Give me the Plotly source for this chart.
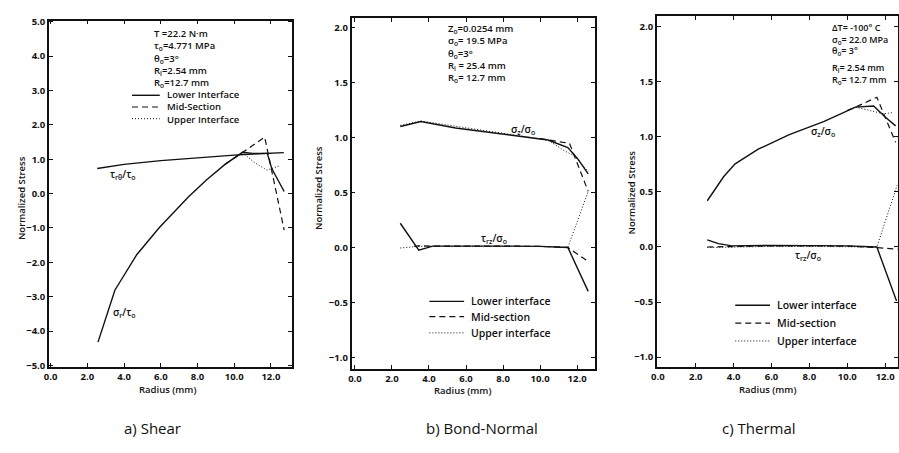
import plotly.graph_objects as go

W, H = 899, 453

# ---------------- data ----------------
# Panel a) Shear
A_R_TAU = [2.54, 4.0, 6.0, 8.0, 10.0, 11.0, 12.0, 12.7]
A_TAU = [0.73, 0.85, 0.96, 1.05, 1.12, 1.15, 1.17, 1.19]
A_R_SIG_LOWER = [2.58, 3.5, 3.8, 4.7, 5.9, 6.8, 7.5, 8.5, 9.5, 10.45, 11.0, 11.8, 12.05, 12.72]
A_SIG_LOWER = [-4.32, -2.81, -2.55, -1.77, -1.0, -0.5, -0.1, 0.4, 0.85, 1.2, 1.17, 1.17, 0.72, 0.06]
A_R_SIG_MID = [9.5, 10.45, 11.66, 12.72]
A_SIG_MID = [0.85, 1.2, 1.64, -1.06]
A_R_SIG_UPPER = [9.5, 10.45, 11.08, 11.78, 12.43]
A_SIG_UPPER = [0.85, 1.2, 0.91, 0.68, 0.80]

# Panel b) Bond-Normal
B_R_SIG_LOWER = [2.45, 3.56, 5.44, 7.93, 10.43, 11.5, 12.04, 12.6]
B_SIG_LOWER = [1.10, 1.146, 1.087, 1.03, 0.977, 0.908, 0.805, 0.67]
B_R_SIG_MID = [10.0, 10.43, 11.59, 12.6]
B_SIG_MID = [0.99, 0.977, 0.947, 0.51]
B_R_SIG_UPPER = [2.45, 3.56, 10.43, 11.3, 11.84, 12.6]
B_SIG_UPPER = [1.11, 1.15, 0.977, 0.88, 0.835, 0.69]
B_R_TAU_LOWER = [2.45, 3.45, 4.2, 6.0, 8.0, 10.0, 11.5, 12.6]
B_TAU_LOWER = [0.22, -0.024, 0.012, 0.015, 0.012, 0.01, 0.0, -0.40]
B_R_TAU_MID = [3.2, 3.45, 4.2, 6.0, 8.0, 10.0, 11.5, 12.6]
B_TAU_MID = [0.01, 0.015, 0.012, 0.015, 0.012, 0.01, 0.0, -0.128]
B_R_TAU_UPPER = [2.45, 3.45, 4.2, 6.0, 8.0, 10.0, 11.5, 12.6]
B_TAU_UPPER = [-0.005, 0.01, 0.01, 0.012, 0.01, 0.008, 0.0, 0.51]

# Panel c) Thermal
C_R_SIG_LOWER = [2.61, 3.48, 4.08, 5.3, 6.94, 8.78, 10.43, 11.39, 12.0, 12.55]
C_SIG_LOWER = [0.42, 0.64, 0.755, 0.888, 1.02, 1.14, 1.27, 1.28, 1.18, 1.10]
C_R_SIG_MID = [10.0, 10.43, 11.56, 12.55]
C_SIG_MID = [1.24, 1.27, 1.36, 0.95]
C_R_SIG_UPPER = [10.0, 10.43, 11.91, 12.4]
C_SIG_UPPER = [1.24, 1.27, 1.21, 1.22]
C_R_TAU_LOWER = [2.61, 3.2, 3.9, 6.0, 8.0, 10.0, 11.56, 12.6]
C_TAU_LOWER = [0.065, 0.03, 0.01, 0.015, 0.012, 0.01, 0.0, -0.49]
C_R_TAU_MID = [2.61, 4.0, 6.0, 8.0, 10.0, 11.56, 12.7]
C_TAU_MID = [0.0, 0.005, 0.01, 0.01, 0.008, -0.005, -0.02]
C_R_TAU_UPPER = [2.61, 4.0, 6.0, 8.0, 10.0, 11.56, 12.65]
C_TAU_UPPER = [-0.005, 0.0, 0.005, 0.005, 0.005, 0.0, 0.57]

X_TICKS = [0.0, 2.0, 4.0, 6.0, 8.0, 10.0, 12.0]
A_Y_TICKS = [-5.0, -4.0, -3.0, -2.0, -1.0, 0.0, 1.0, 2.0, 3.0, 4.0, 5.0]
BC_Y_TICKS = [-1.0, -0.5, 0.0, 0.5, 1.0, 1.5, 2.0]

LEGEND_NAMES_A = ["Lower Interface", "Mid-Section", "Upper Interface"]
LEGEND_NAMES_BC = ["Lower interface", "Mid-section", "Upper interface"]

PARAMS_A = ["T =22.2 N·m", "τ<sub>o</sub>=4.771 MPa", "θ<sub>o</sub>=3°",
            "R<sub>i</sub>=2.54 mm", "R<sub>o</sub>=12.7 mm"]
PARAMS_B = ["Z<sub>o</sub>=0.0254 mm", "σ<sub>o</sub>= 19.5 MPa", "θ<sub>o</sub>=3°",
            "R<sub>i</sub> = 25.4 mm", "R<sub>o</sub>= 12.7 mm"]
PARAMS_C1 = ["ΔT= -100° C", "σ<sub>o</sub>= 22.0 MPa", "θ<sub>o</sub>= 3°"]
PARAMS_C2 = ["R<sub>i</sub>= 2.54 mm", "R<sub>o</sub>= 12.7 mm"]

# ---------------- styles ----------------
FONT = "Open Sans"
BLACK = "#111111"
STY = {
    "lower": dict(color=BLACK, width=1.4, dash="solid"),
    "mid": dict(color=BLACK, width=1.2, dash="6px,4px"),
    "upper": dict(color=BLACK, width=1.0, dash="1px,2px"),
}
KINDS = ["lower", "mid", "upper"]

fig = go.Figure()


def add(xs, ys, kind, axn):
    fig.add_trace(go.Scatter(
        x=xs, y=ys, mode="lines", line=STY[kind], showlegend=False,
        hoverinfo="skip",
        xaxis="x" if axn == 1 else f"x{axn}",
        yaxis="y" if axn == 1 else f"y{axn}",
    ))


# panel a
add(A_R_SIG_UPPER, A_SIG_UPPER, "upper", 1)
add(A_R_SIG_MID, A_SIG_MID, "mid", 1)
add(A_R_TAU, A_TAU, "lower", 1)
add(A_R_SIG_LOWER, A_SIG_LOWER, "lower", 1)
# panel b
add(B_R_SIG_UPPER, B_SIG_UPPER, "upper", 2)
add(B_R_SIG_MID, B_SIG_MID, "mid", 2)
add(B_R_SIG_LOWER, B_SIG_LOWER, "lower", 2)
add(B_R_TAU_UPPER, B_TAU_UPPER, "upper", 2)
add(B_R_TAU_MID, B_TAU_MID, "mid", 2)
add(B_R_TAU_LOWER, B_TAU_LOWER, "lower", 2)
# panel c
add(C_R_SIG_UPPER, C_SIG_UPPER, "upper", 3)
add(C_R_SIG_MID, C_SIG_MID, "mid", 3)
add(C_R_SIG_LOWER, C_SIG_LOWER, "lower", 3)
add(C_R_TAU_UPPER, C_TAU_UPPER, "upper", 3)
add(C_R_TAU_MID, C_TAU_MID, "mid", 3)
add(C_R_TAU_LOWER, C_TAU_LOWER, "lower", 3)


def px(x):
    return x / W


def py(y):
    return 1 - y / H


tickfont = dict(family=FONT, size=9.5, color=BLACK, weight=700)


def axis_common():
    return dict(showline=True, linecolor=BLACK, linewidth=1.6, mirror="allticks",
                ticks="inside", ticklen=4, tickwidth=1.2, tickcolor=BLACK,
                showgrid=False, zeroline=False, tickfont=tickfont,
                tickformat=".1f", fixedrange=True)


# domains (pixels) -> paper
PANELS = [
    # (left, right, top, bottom, xrange, yrange, yticks)
    (43.3, 288.3, 15.0, 369.5, [-0.09, 13.15], [-5.03, 5.03], A_Y_TICKS),
    (348.3, 593.3, 12.0, 371.7, [-0.18, 12.95], [-1.103, 2.09], BC_Y_TICKS),
    (656.0, 898.5, 10.0, 370.0, [-0.05, 12.65], [-1.09, 2.10], BC_Y_TICKS),
]

layout_axes = {}
for i, (l, r, t, b, xr, yr, yt) in enumerate(PANELS, start=1):
    xa = axis_common()
    xa.update(domain=[px(l), px(r)], range=xr, tickvals=X_TICKS,
              anchor="y" if i == 1 else f"y{i}")
    ya = axis_common()
    ya.update(domain=[py(b), py(t)], range=yr, tickvals=yt,
              anchor="x" if i == 1 else f"x{i}")
    layout_axes["xaxis" if i == 1 else f"xaxis{i}"] = xa
    layout_axes["yaxis" if i == 1 else f"yaxis{i}"] = ya

annotations = []
shapes = []


def text(s, x, y, size=10, xanchor="left", angle=0, weight=600, yanchor="middle"):
    annotations.append(dict(
        text=s, x=px(x), y=py(y), xref="paper", yref="paper",
        xanchor=xanchor, yanchor=yanchor, showarrow=False, textangle=angle,
        align="left", font=dict(family=FONT, size=size, color=BLACK, weight=weight),
    ))


def data_text(s, x, y, axn, size=10):
    annotations.append(dict(
        text=s, x=x, y=y,
        xref="x" if axn == 1 else f"x{axn}",
        yref="y" if axn == 1 else f"y{axn}",
        xanchor="center", yanchor="middle", showarrow=False,
        font=dict(family=FONT, size=size, color=BLACK, weight=600),
    ))


def legend_samples(x0, x1, ys):
    for kind, y in zip(KINDS, ys):
        st = STY[kind]
        shapes.append(dict(type="line", xref="paper", yref="paper",
                           x0=px(x0), x1=px(x1), y0=py(y), y1=py(y),
                           line=dict(color=BLACK, width=st["width"], dash=st["dash"])))


# parameter blocks (one multi-line text each)
text("<br>".join(PARAMS_A), 147, 53.5, 9.5)
text("<br>".join(PARAMS_B), 443, 48.5, 9.5)
text("<br>".join(PARAMS_C1), 830, 34.0, 9)
text("<br>".join(PARAMS_C2), 830, 69.5, 9)

# legends
legend_samples(127, 155, [91.5, 103.5, 115.5])
text("<br>".join(LEGEND_NAMES_A), 160, 103.8, 9.5)
legend_samples(426.7, 461.7, [302.7, 318.3, 335.0])
for name, y in zip(LEGEND_NAMES_BC, [302.7, 318.3, 335.0]):
    text(name, 466.5, y, 10.5)
legend_samples(735, 770, [306.7, 325.0, 343.3])
for name, y in zip(LEGEND_NAMES_BC, [306.7, 325.0, 343.3]):
    text(name, 775, y, 10.5)

# curve labels
data_text("τ<sub>rθ</sub>/τ<sub>o</sub>", 3.95, 0.55, 1)
data_text("σ<sub>r</sub>/τ<sub>o</sub>", 4.0, -3.47, 1)
data_text("σ<sub>z</sub>/σ<sub>o</sub>", 9.1, 1.07, 2)
data_text("τ<sub>rz</sub>/σ<sub>o</sub>", 7.49, 0.08, 2)
data_text("σ<sub>z</sub>/σ<sub>o</sub>", 8.7, 1.05, 3)
data_text("τ<sub>rz</sub>/σ<sub>o</sub>", 7.9, -0.075, 3)

# axis titles
for (x, y) in [(15, 197), (315, 187), (630, 191)]:
    text("Normalized Stress", x, y, 9.5, xanchor="center", angle=-90)
for (x, y) in [(163, 393), (460, 394), (767, 393)]:
    text("Radius (mm)", x, y, 9.5, xanchor="center")

# captions
text("a) Shear", 148, 433, 15, xanchor="center", weight=500)
text("b) Bond-Normal", 480, 433, 15, xanchor="center", weight=500)
text("c) Thermal", 759, 433, 15, xanchor="center", weight=500)

fig.update_layout(
    width=W, height=H, margin=dict(l=0, r=0, t=0, b=0),
    paper_bgcolor="white", plot_bgcolor="white",
    showlegend=False, annotations=annotations, shapes=shapes,
    **layout_axes,
)

fig.write_html("out.html")
